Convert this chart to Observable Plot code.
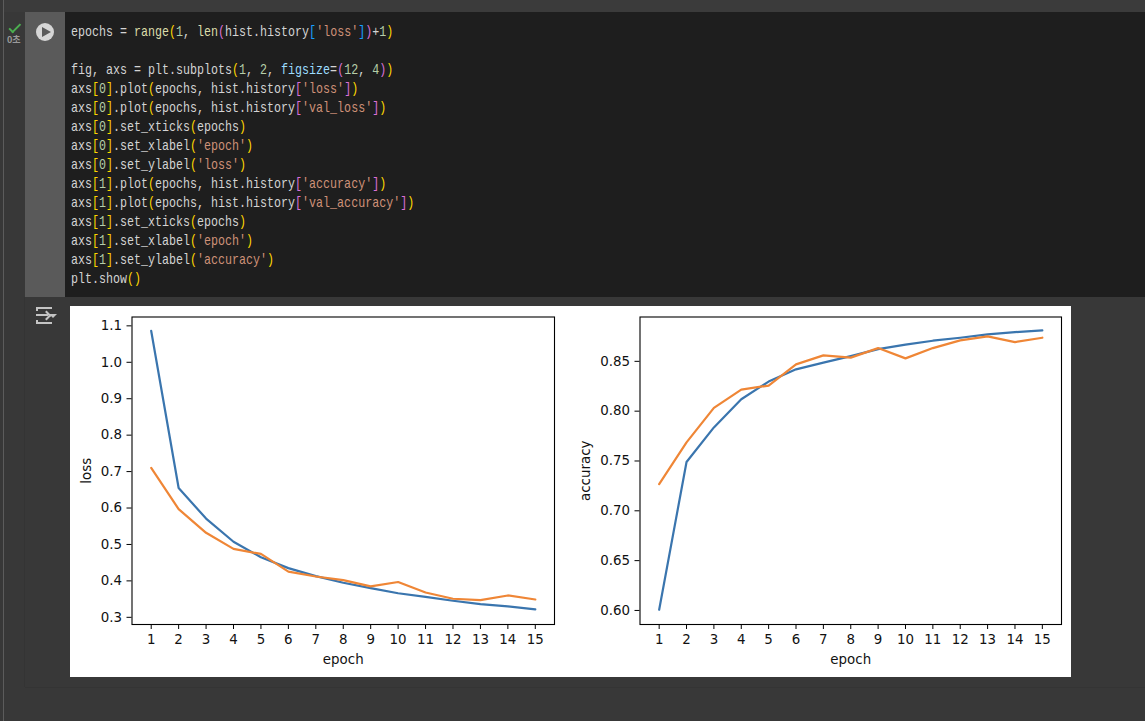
<!DOCTYPE html>
<html>
<head>
<meta charset="utf-8">
<script src="https://cdn.jsdelivr.net/npm/d3@7"></script>
<script src="https://cdn.jsdelivr.net/npm/@observablehq/plot@0.6"></script>
<style>
html,body{margin:0;padding:0;background:#383838;width:1145px;height:721px;overflow:hidden}
.abs{position:absolute}
#rail{left:3px;top:0;width:1px;height:721px;background:#5c5c5c}
#topline{left:4px;top:0;width:1141px;height:12px;background:#3b3b3b}
#gutter{left:25px;top:12px;width:40px;height:285px;background:#5a5a5a}
#codebg{left:65px;top:12px;width:1080px;height:285px;background:#1e1e1e}
#outbox{left:25px;top:297px;width:1120px;height:390px;background:#383838;box-shadow:0 1px 0 #343434,-1px 0 0 #343434}
#code{left:71px;top:23px;margin:0;font:15px/19px "Liberation Mono",monospace;color:#d4d4d4;transform:scaleX(.7778);transform-origin:0 0;white-space:pre}
#play{left:36px;top:23px;width:18px;height:18px;border-radius:50%;background:#d6d6d6}
#tri{left:42px;top:27px;width:0;height:0;border-left:9px solid #5a5a5a;border-top:5px solid transparent;border-bottom:5px solid transparent}
#check{left:12px;top:20.5px;width:4px;height:9.5px;border-right:2px solid #4caf50;border-bottom:2px solid #4caf50;transform:rotate(45deg)}
#sec{left:7px;top:34px;font:bold 9px/11px "Noto Sans CJK KR",sans-serif;color:#9a9a9a}
.ic{background:#c4c4c4}
#i1{left:37px;top:307px;width:15px;height:2px}
#i2{left:37px;top:322px;width:15px;height:2px}
#i3{left:36px;top:314px;width:12px;height:2px}
#i4{left:36px;top:307px;width:2px;height:4px}
#i5{left:36px;top:320px;width:2px;height:4px}
#i6{left:43px;top:311.5px;width:5px;height:5px;border-top:2px solid #c4c4c4;border-right:2px solid #c4c4c4;transform:rotate(45deg)}
#i7{left:49px;top:314px;width:0;height:0;border-top:4px solid #c4c4c4;border-left:4px solid transparent;border-right:4px solid transparent}
#img{left:70px;top:306px;width:1001px;height:371px;background:#fff}
#left{left:70px;top:306px}
#right{left:570px;top:306px}
#left svg,#right svg{display:block;background:#fff}
.f{color:#dcdcaa}.p{color:#ffd700}.m{color:#da70d6}.b{color:#179fff}.s{color:#ce9178}.n{color:#b5cea8}.k{color:#9cdcfe}
</style>
</head>
<body>
<div class="abs" id="rail"></div>
<div class="abs" id="topline"></div>
<div class="abs" id="gutter"></div>
<div class="abs" id="codebg"></div>
<div class="abs" id="outbox"></div>
<div class="abs" id="check"></div>
<div class="abs" id="sec">0초</div>
<div class="abs" id="play"></div>
<div class="abs" id="tri"></div>
<div class="abs ic" id="i1"></div>
<div class="abs ic" id="i2"></div>
<div class="abs ic" id="i3"></div>
<div class="abs ic" id="i4"></div>
<div class="abs ic" id="i5"></div>
<div class="abs" id="i6"></div>
<div class="abs" id="i7"></div>
<pre class="abs" id="code"></pre>
<div class="abs" id="img"></div>
<div class="abs" id="left"></div>
<div class="abs" id="right"></div>
<script>
const epochs = [1,2,3,4,5,6,7,8,9,10,11,12,13,14,15];
const loss = [1.086,0.655,0.571,0.5075,0.465,0.435,0.413,0.395,0.380,0.366,0.356,0.3455,0.336,0.330,0.322];
const valLoss = [0.710,0.597,0.532,0.488,0.474,0.4256,0.412,0.402,0.385,0.397,0.368,0.351,0.347,0.360,0.349];
const accuracy = [0.6007,0.749,0.7837,0.812,0.8297,0.842,0.8487,0.8553,0.8623,0.8667,0.8707,0.8737,0.877,0.8793,0.881];
const valAccuracy = [0.7267,0.7687,0.8033,0.8217,0.8257,0.847,0.856,0.8537,0.8633,0.853,0.8633,0.871,0.875,0.8693,0.8737];
const lossTicks = [0.3,0.4,0.5,0.6,0.7,0.8,0.9,1.0,1.1];
const accuracyTicks = [0.60,0.65,0.70,0.75,0.80,0.85];
const blue = "#3a75ae", orange = "#ef8636";

const codeLines = [
 'epochs = <span class="f">range</span><span class="p">(</span><span class="n">1</span>, <span class="f">len</span><span class="m">(</span>hist.history<span class="b">[</span><span class="s">\'loss\'</span><span class="b">]</span><span class="m">)</span>+<span class="n">1</span><span class="p">)</span>',
 '',
 'fig, axs = plt.subplots<span class="p">(</span><span class="n">1</span>, <span class="n">2</span>, <span class="k">figsize</span>=<span class="m">(</span><span class="n">12</span>, <span class="n">4</span><span class="m">)</span><span class="p">)</span>',
 'axs<span class="p">[</span><span class="n">0</span><span class="p">]</span>.plot<span class="p">(</span>epochs, hist.history<span class="m">[</span><span class="s">\'loss\'</span><span class="m">]</span><span class="p">)</span>',
 'axs<span class="p">[</span><span class="n">0</span><span class="p">]</span>.plot<span class="p">(</span>epochs, hist.history<span class="m">[</span><span class="s">\'val_loss\'</span><span class="m">]</span><span class="p">)</span>',
 'axs<span class="p">[</span><span class="n">0</span><span class="p">]</span>.set_xticks<span class="p">(</span>epochs<span class="p">)</span>',
 'axs<span class="p">[</span><span class="n">0</span><span class="p">]</span>.set_xlabel<span class="p">(</span><span class="s">\'epoch\'</span><span class="p">)</span>',
 'axs<span class="p">[</span><span class="n">0</span><span class="p">]</span>.set_ylabel<span class="p">(</span><span class="s">\'loss\'</span><span class="p">)</span>',
 'axs<span class="p">[</span><span class="n">1</span><span class="p">]</span>.plot<span class="p">(</span>epochs, hist.history<span class="m">[</span><span class="s">\'accuracy\'</span><span class="m">]</span><span class="p">)</span>',
 'axs<span class="p">[</span><span class="n">1</span><span class="p">]</span>.plot<span class="p">(</span>epochs, hist.history<span class="m">[</span><span class="s">\'val_accuracy\'</span><span class="m">]</span><span class="p">)</span>',
 'axs<span class="p">[</span><span class="n">1</span><span class="p">]</span>.set_xticks<span class="p">(</span>epochs<span class="p">)</span>',
 'axs<span class="p">[</span><span class="n">1</span><span class="p">]</span>.set_xlabel<span class="p">(</span><span class="s">\'epoch\'</span><span class="p">)</span>',
 'axs<span class="p">[</span><span class="n">1</span><span class="p">]</span>.set_ylabel<span class="p">(</span><span class="s">\'accuracy\'</span><span class="p">)</span>',
 'plt.show<span class="p">()</span>'
];
document.getElementById("code").innerHTML = codeLines.join("\n");

function panel(sel, opts){
  const {series1, series2, yLabel, yDomain, yTicks, yFmt, width, marginLeft, marginRight, labelGap} = opts;
  const chart = Plot.plot({
    width, height: 371, marginLeft, marginRight, marginTop: 10.5, marginBottom: 53,
    style: {fontFamily: "'DejaVu Sans', sans-serif", fontSize: "13.4px", color: "#111", background: "#fff"},
    x: {domain: [0.3, 15.7], label: null},
    y: {domain: yDomain, label: null},
    marks: [
      Plot.line(epochs, {x: d => d, y: (d, i) => series1[i], stroke: blue, strokeWidth: 2.2, curve: "linear"}),
      Plot.line(epochs, {x: d => d, y: (d, i) => series2[i], stroke: orange, strokeWidth: 2.2, curve: "linear"}),
      Plot.frame({stroke: "#000", strokeWidth: 1.1, strokeOpacity: 1}),
      Plot.axisX(epochs, {anchor: "bottom", label: "epoch", labelAnchor: "center", labelArrow: "none", labelOffset: 39.5, tickSize: 5, tickPadding: 5, tickFormat: d => String(d), stroke: "#000", strokeOpacity: 1, fontVariant: "normal"}),
      Plot.axisY(yTicks, {anchor: "left", label: yLabel, labelAnchor: "center", labelArrow: "none", labelOffset: marginLeft - labelGap, tickSize: 5, tickPadding: 5, tickFormat: yFmt, stroke: "#000", strokeOpacity: 1, fontVariant: "normal"})
    ]
  });
  document.getElementById(sel).appendChild(chart);
}

panel("left", {series1: loss, series2: valLoss, yLabel: "loss", yDomain: [0.2803, 1.1243], yTicks: lossTicks, yFmt: d3.format(".1f"), width: 500, marginLeft: 61.5, marginRight: 16, labelGap: 11});
panel("right", {series1: accuracy, series2: valAccuracy, yLabel: "accuracy", yDomain: [0.5859, 0.8945], yTicks: accuracyTicks, yFmt: d3.format(".2f"), width: 501, marginLeft: 69.5, marginRight: 10, labelGap: 10});
</script>
</body>
</html>
